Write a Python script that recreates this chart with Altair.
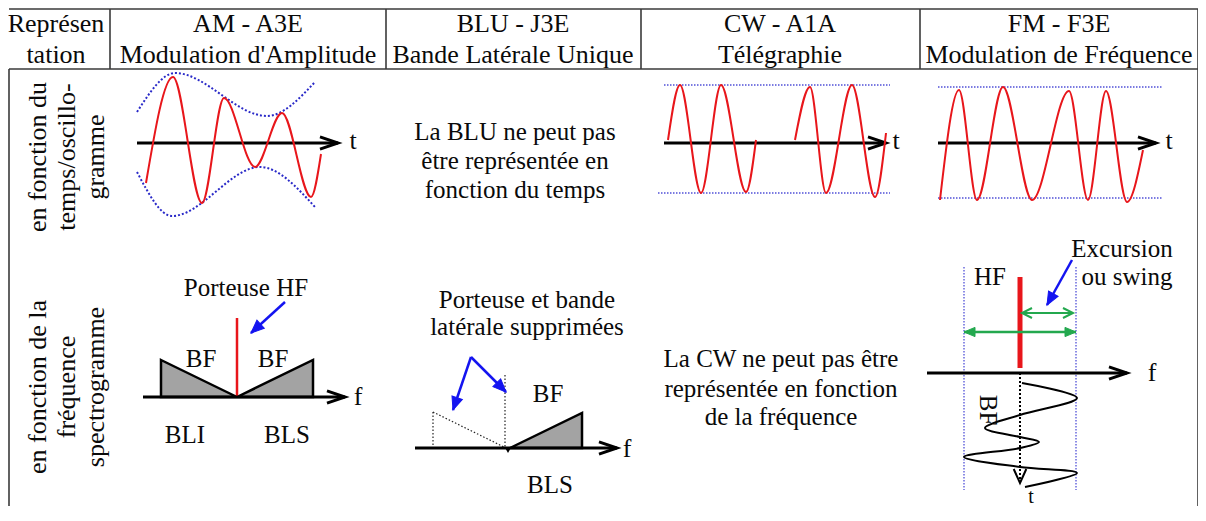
import math
import altair as alt
import pandas as pd

FONT = "Liberation Serif, Times New Roman, DejaVu Serif, serif"

# ---------------- table ----------------
col_edges = [9, 110, 386, 641, 920, 1198]
table_top, header_rule, table_bottom = 9, 69, 521

header_line1 = ["Représen", "AM - A3E", "BLU - J3E", "CW - A1A", "FM - F3E"]
header_line2 = ["tation", "Modulation d'Amplitude", "Bande Latérale Unique",
                "Télégraphie", "Modulation de Fréquence"]
header_x = [56, 248, 513, 780, 1059]
header_base = [32, 63]

row_labels_time = ["en fonction du", "temps/oscillo-", "gramme"]
row_labels_freq = ["en fonction de la", "fréquence", "spectrogramme"]
row_label_x = [38, 67, 96]
row_label_y = [157, 387]

blu_time_text = ["La BLU ne peut pas", "être représentée en", "fonction du temps"]
blu_time_x = [515, 515, 515]
blu_time_base = [140, 169, 198]

cw_freq_text = ["La CW ne peut pas être", "représentée en fonction", "de la fréquence"]
cw_freq_x = [781, 781, 781]
cw_freq_base = [367, 397, 425]

# ---------------- row 1 : oscillograms ----------------
am_t = [146, 173, 202, 224, 255, 282, 311, 321]
am_v = [183, 77, 203, 98, 167, 113, 197, 154]
am_env_hi_t = [137, 175, 267, 315]
am_env_hi_v = [112, 73, 116, 82]
am_env_lo_t = [137, 172, 260, 315]
am_env_lo_v = [172, 216, 167, 207]

cw1_t = [668, 680, 701, 721, 746, 756]
cw1_v = [140, 85, 193, 85, 192, 140]
cw2_t = [795, 810, 826, 852, 875, 886]
cw2_v = [140, 87, 193, 85, 197, 133]
cw_levels = [(664, 85, 890, 85), (658, 193, 890, 193)]

fm_t = [940, 959, 977, 1003, 1032, 1069, 1088, 1106, 1127, 1143]
fm_v = [200, 90, 200, 87, 200, 91, 200, 91, 202, 150]
fm_levels = [(938, 87, 1162, 87), (938, 198, 1162, 198)]

time_axes = [(137, 143, 338, 143), (664, 143, 886, 143), (938, 143, 1156, 143)]
t_labels_x = [353, 896, 1169]
t_labels_y = [149, 149, 149]

# ---------------- row 2 : spectra ----------------
freq_axes = [(143, 397, 345, 397), (415, 448, 617, 448), (927, 373, 1127, 373)]
f_labels_x = [358, 627, 1152]
f_labels_y = [405, 457, 381]

# grey side bands: (x start, x end, y at start, y at end, base)
bands = [(161, 237, 360, 397, 397), (237, 313, 397, 360, 397), (510, 582, 448, 413, 448)]
am_carrier = [(237, 318, 237, 397)]
blu_suppressed = [(433, 412, 433, 448), (433, 412, 506, 448), (505, 375, 505, 448)]
blu_notch = [(508, 450)]

spec_text = ["Porteuse HF", "BF", "BF", "BLI", "BLS",
             "Porteuse et bande", "latérale supprimées", "BF", "BLS",
             "HF", "Excursion", "ou swing"]
spec_text_x = [246, 201, 273, 185, 287, 527, 527, 548, 550, 990, 1122, 1127]
spec_text_y = [296, 367, 367, 443, 443, 308, 335, 402, 493, 285, 257, 285]

blue_arrows = [(285, 302, 251, 333), (471, 357, 453, 410), (471, 357, 506, 392),
               (1072, 260, 1047, 305)]

fm_band_edges = [(964, 267, 964, 490), (1076, 267, 1076, 490)]
fm_carrier = [(1020, 277, 1020, 368)]
fm_swing_long = [(964, 332, 1076, 332)]
fm_swing_short = [(1022, 313, 1073, 313)]
fm_time_arrow = [(1020, 373, 1020, 483)]
bf_wave_x = [1022, 1077, 1020, 985, 1020, 1039, 1020, 964, 1020, 1077, 1025]
bf_wave_y = [383, 398, 415, 428, 437, 442, 448, 457, 467, 473, 487]
bf_label = [("BF", 988, 410)]
t_small = [("t", 1031, 503)]

# ---------------- scales / helpers ----------------
X0, X1, Y0, Y1 = 8, 1198, 8, 506
W, H = X1 - X0, Y1 - Y0
xs = alt.Scale(domain=[X0, X1], zero=False, nice=False)
ys = alt.Scale(domain=[Y0, Y1], zero=False, nice=False, reverse=True)


def X(f):
    return alt.X(f, type="quantitative", scale=xs, axis=None)


def Y(f):
    return alt.Y(f, type="quantitative", scale=ys, axis=None, stack=None)


def segs(rows, color, width, dash=None, cap="butt"):
    df = pd.DataFrame(rows, columns=["x", "y", "x2", "y2"])
    kw = dict(color=color, strokeWidth=width, strokeCap=cap)
    if dash:
        kw["strokeDash"] = dash
    return alt.Chart(df).mark_rule(**kw).encode(
        x=X("x"), y=Y("y"), x2=alt.X2("x2"), y2=alt.Y2("y2"))


def curves(series, color, width, interp="monotone", dash=None):
    rows = []
    for g, (xv, yv) in enumerate(series):
        for i, (a, b) in enumerate(zip(xv, yv)):
            rows.append({"x": a, "y": b, "g": g, "i": i})
    kw = dict(color=color, strokeWidth=width, interpolate=interp)
    if dash:
        kw["strokeDash"] = dash
    return alt.Chart(pd.DataFrame(rows)).mark_line(**kw).encode(
        x=X("x"), y=Y("y"), detail="g:N", order="i:Q")


def heads(shafts, shape, size, color, filled, width=2, both=False):
    rows = []
    for (x1, y1, x2, y2) in shafts:
        a = math.degrees(math.atan2(y2 - y1, x2 - x1)) % 360
        rows.append({"x": x2, "y": y2, "angle": a})
        if both:
            rows.append({"x": x1, "y": y1, "angle": (a + 180) % 360})
    kw = dict(shape=shape, size=size, filled=filled, opacity=1, strokeWidth=width,
              strokeJoin="miter")
    if filled:
        kw.update(fill=color, stroke=color)
    else:
        kw.update(stroke=color, fill="transparent")
    return alt.Chart(pd.DataFrame(rows)).mark_point(**kw).encode(
        x=X("x"), y=Y("y"), angle=alt.Angle("angle:Q", scale=None))


def texts(labels, xv, yv, size, angle=0, baseline="alphabetic", color="#0a0a0a"):
    df = pd.DataFrame({"text": labels, "x": xv, "y": yv})
    return alt.Chart(df).mark_text(font=FONT, fontSize=size, angle=angle,
                                   baseline=baseline, align="center", color=color).encode(
        x=X("x"), y=Y("y"), text="text:N")


OPEN_V = "M-1,-0.34L0,0L-1,0.34"
FILLED_V = "M0,0L-1,-0.42L-1,0.42Z"

RED = "#e8161b"
BLUE_DOT = "#2a2ac8"
BLUE = "#1414f0"
GREEN = "#23a84e"
GREY = "#a3a3a3"

layers = []

# table frame (the header's own left edge lies outside the picture)
table_rows = [(col_edges[0], table_top, col_edges[-1], table_top),
              (col_edges[0], header_rule, col_edges[-1], header_rule),
              (col_edges[0], header_rule, col_edges[0], table_bottom),
              (col_edges[-1], table_top, col_edges[-1], table_bottom)]
table_rows += [(c, table_top, c, header_rule) for c in col_edges[1:-1]]
layers.append(segs(table_rows, "#3a3a3a", 1.6))

# headers
layers.append(texts(header_line1, header_x, [header_base[0]] * 5, 26))
layers.append(texts(header_line2, header_x, [header_base[1]] * 5, 26))

# row labels (rotated)
layers.append(texts(row_labels_time, row_label_x, [row_label_y[0]] * 3, 26,
                    angle=270, baseline="middle"))
layers.append(texts(row_labels_freq, row_label_x, [row_label_y[1]] * 3, 26,
                    angle=270, baseline="middle"))

# explanatory texts
layers.append(texts(blu_time_text, blu_time_x, blu_time_base, 25))
layers.append(texts(cw_freq_text, cw_freq_x, cw_freq_base, 25))

# ---- row 1
layers.append(curves([(am_env_hi_t, am_env_hi_v), (am_env_lo_t, am_env_lo_v)],
                     BLUE_DOT, 2, dash=[2, 2]))
layers.append(segs(cw_levels + fm_levels, "#5050d8", 1.3, dash=[1.5, 1.5]))
layers.append(segs(time_axes, "black", 3))
layers.append(heads(time_axes, OPEN_V, 36 ** 2, "black", False, width=3))
layers.append(curves([(am_t, am_v), (cw1_t, cw1_v), (cw2_t, cw2_v), (fm_t, fm_v)],
                     RED, 2))
layers.append(texts(["t", "t", "t"], t_labels_x, t_labels_y, 26))

# ---- row 2
band_rows = []
for k, (xa, xb, ya, yb, base) in enumerate(bands):
    band_rows.append({"x": xa, "y": ya, "base": base, "g": k})
    band_rows.append({"x": xb, "y": yb, "base": base, "g": k})
layers.append(alt.Chart(pd.DataFrame(band_rows)).mark_area(
    fill=GREY, stroke="black", strokeWidth=2.5, strokeJoin="miter", opacity=1).encode(
    x=X("x"), y=Y("y"), y2=alt.Y2("base"), detail="g:N"))

layers.append(segs(blu_suppressed, "#222222", 1.2, dash=[1.5, 2]))
layers.append(segs(fm_band_edges, "#5050d8", 1.3, dash=[1.5, 1.5]))
layers.append(segs(am_carrier, RED, 2.5))
layers.append(segs(fm_carrier, RED, 5))

layers.append(segs(freq_axes, "black", 3))
layers.append(heads(freq_axes, OPEN_V, 36 ** 2, "black", False, width=3))
layers.append(texts(["f", "f", "f"], f_labels_x, f_labels_y, 26))

notch = pd.DataFrame(blu_notch, columns=["x", "y"])
layers.append(alt.Chart(notch).mark_point(shape="triangle-down", filled=True, size=45,
                                          color="black", opacity=1).encode(
    x=X("x"), y=Y("y")))

# blue pointer arrows
layers.append(segs(blue_arrows, BLUE, 2.5))
layers.append(heads(blue_arrows, FILLED_V, 26 ** 2, BLUE, True, width=1))

# FM swing arrows
layers.append(segs(fm_swing_long, GREEN, 2.5))
layers.append(heads(fm_swing_long, FILLED_V, 22 ** 2, GREEN, True, width=1, both=True))
layers.append(segs(fm_swing_short, GREEN, 2))
layers.append(heads(fm_swing_short, "M-1,-0.5L0,0L-1,0.5", 20 ** 2, GREEN, False,
                    width=2, both=True))

# FM modulating signal along time axis
layers.append(segs(fm_time_arrow, "black", 2, dash=[2, 2]))
layers.append(heads(fm_time_arrow, "M-1,-0.45L0,0L-1,0.45", 28 ** 2, "black", False, width=2))
layers.append(curves([(bf_wave_x, bf_wave_y)], "black", 2, interp="catmull-rom"))
layers.append(texts([b[0] for b in bf_label], [b[1] for b in bf_label],
                    [b[2] for b in bf_label], 25, angle=90, baseline="middle"))
layers.append(texts([b[0] for b in t_small], [b[1] for b in t_small],
                    [b[2] for b in t_small], 20))

layers.append(texts(spec_text, spec_text_x, spec_text_y, 25))

chart = alt.layer(*layers).properties(
    width=W, height=H, padding=0,
    autosize=alt.AutoSizeParams(type="none"),
    background="white",
).configure_view(stroke=None)

chart.save("out.html", embed_options={"renderer": "svg", "actions": False})
